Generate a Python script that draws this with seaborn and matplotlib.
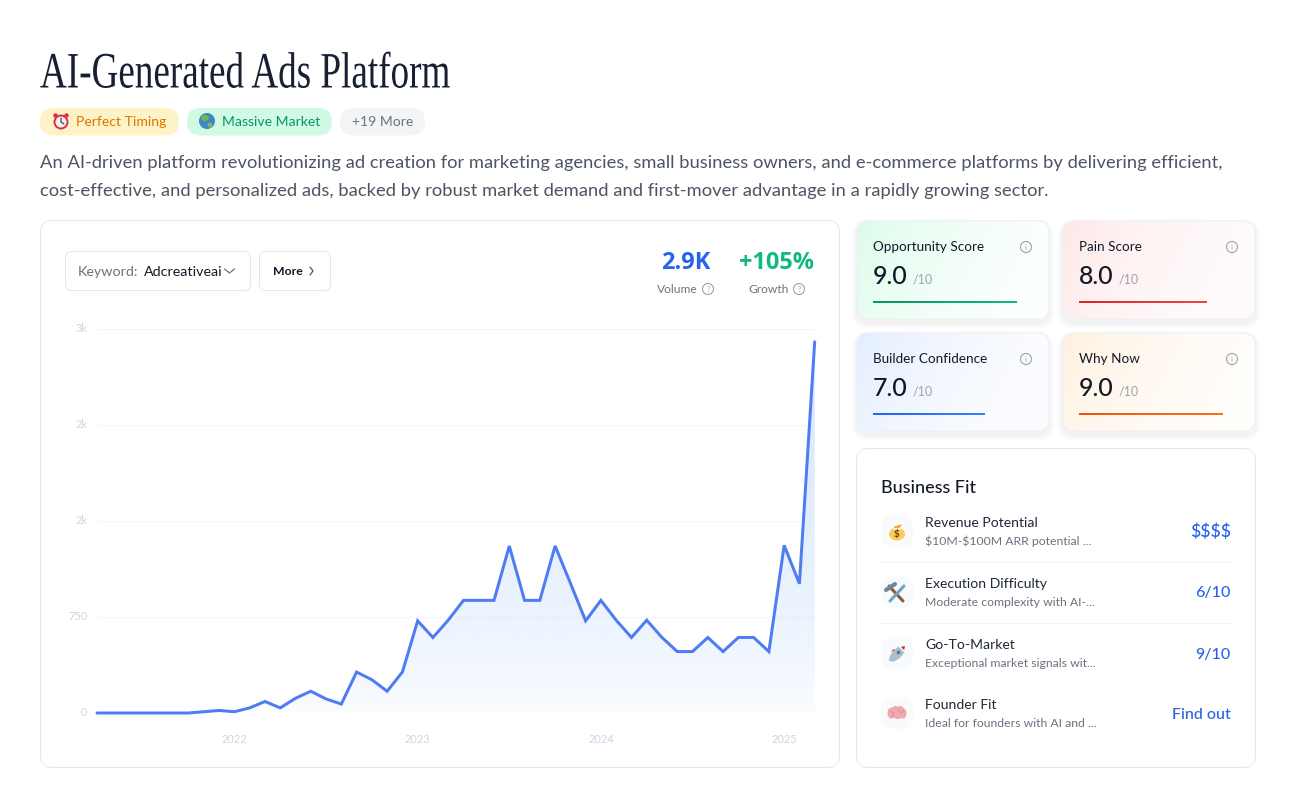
#!/usr/bin/env python3
"""Idea overview card: keyword trend chart with score cards and business fit list."""

import matplotlib

matplotlib.use("Agg")

import matplotlib.patheffects as pe
import matplotlib.pyplot as plt
import numpy as np
import seaborn as sns
from matplotlib.colors import LinearSegmentedColormap, to_rgb
from matplotlib.patches import Circle, Ellipse, FancyBboxPatch, Polygon
from matplotlib.transforms import Affine2D

W, H = 1296, 808

# --- data ---
volume = [0, 0, 0, 0, 0, 0, 0, 10, 20, 10, 40, 90, 40, 115, 170, 110, 70, 320,
          260, 170, 320, 720, 590, 725, 880, 880, 880, 1305, 880, 880, 1305, 1015,
          720, 880, 725, 590, 725, 590, 480, 480, 590, 480, 590, 590, 480, 1310,
          1010, 2900]
year_positions = [9, 21, 33, 45]
year_labels = ["2022", "2023", "2024", "2025"]
y_ticks = [0, 750, 1500, 2250, 3000]
y_tick_labels = ["0", "750", "2k", "2k", "3k"]

score_names = ["Opportunity Score", "Pain Score", "Builder Confidence", "Why Now"]
score_values = [9.0, 8.0, 7.0, 9.0]

fit_names = ["Revenue Potential", "Execution Difficulty", "Go-To-Market", "Founder Fit"]
fit_notes = ["$10M-$100M ARR potential ...", "Moderate complexity with AI-...",
             "Exceptional market signals wit...", "Ideal for founders with AI and ..."]
fit_values = ["$$$$", "6/10", "9/10", "Find out"]

description = [
    "An AI-driven platform revolutionizing ad creation for marketing agencies, small "
    "business owners, and e-commerce platforms by delivering efficient,",
    "cost-effective, and personalized ads, backed by robust market demand and "
    "first-mover advantage in a rapidly growing sector.",
]

BODY = "Lato"
HEAD = "Open Sans"
BLUE = "#2563eb"
BORDER = "#e2e8f0"
INK = "#111827"
GREY = "#6b7280"

sns.set_theme(style="white")
plt.rcParams["font.family"] = [BODY, "DejaVu Sans"]

fig = plt.figure(figsize=(W / 100, H / 100), dpi=100, facecolor="white")
ui = fig.add_axes([0, 0, 1, 1])
ui.set_xlim(0, W)
ui.set_ylim(H, 0)
ui.axis("off")


def pt(px):
    return px * 0.72


def label(x, y, s, size, color=INK, weight=400, ha="left", family=BODY, **kw):
    s = s.replace("$", r"\$")
    return ui.text(x, y, s, fontsize=pt(size), color=color, fontweight=weight, ha=ha,
                   va="baseline", family=family, **kw)


def box(x, y, w, h, r, face="white", edge=BORDER, lw=1.0, z=2, alpha=None):
    patch = FancyBboxPatch((x, y), w, h, boxstyle=f"round,pad=0,rounding_size={r}",
                           facecolor=face, edgecolor=edge, linewidth=lw * 0.72,
                           zorder=z, alpha=alpha)
    ui.add_patch(patch)
    return patch


def shadow(x, y, w, h, r):
    for grow in range(6, 0, -1):
        box(x - grow, y - grow + 4, w + 2 * grow, h + 2 * grow, r + grow,
            face="#0f172a", edge="none", z=1, alpha=0.006)


class CondenseX(pe.AbstractPathEffect):
    """Squeeze the glyphs sideways, the nearest serif is much wider than the original."""

    def __init__(self, x0, factor):
        super().__init__()
        self.x0 = x0
        self.factor = factor

    def draw_path(self, renderer, gc, tpath, affine, rgbFace=None):
        squeeze = Affine2D().translate(-self.x0, 0).scale(self.factor, 1).translate(self.x0, 0)
        renderer.draw_path(gc, tpath, affine + squeeze, rgbFace)


def info_icon(x, y, mark="i", r=5.5, color="#9ca3af"):
    ui.add_patch(Circle((x, y), r, facecolor="none", edgecolor=color, linewidth=0.8, zorder=5))
    ui.text(x, y + 0.3, mark, fontsize=pt(8), color=color, ha="center", va="center",
            family=BODY, zorder=5)


def chevron(x, y, dx, dy, color):
    ui.plot([x - dx, x, x + dx] if dy else [x, x + dx, x],
            [y, y + dy, y] if dy else [y - 4, y, y + 4],
            color=color, lw=0.9, zorder=5, solid_capstyle="round")


# --- header ---
label(40, 87.5, "AI-Generated Ads Platform", 51, color="#172033", family="Liberation Serif",
      path_effects=[CondenseX(40, 0.728)])

for x, w, face in [(40, 139, "#fef3c7"), (187, 145, "#d1fae5"), (340, 85, "#f3f4f6")]:
    box(x, 108, w, 27.5, 13.75, face=face, edge="none")
label(75.5, 126.5, "Perfect Timing", 14, color="#d97706")
label(222, 126.5, "Massive Market", 14, color="#059669")
label(352, 126.5, "+19 More", 14, color=GREY)

# small stand-ins for the emoji
ui.add_patch(Circle((61, 122), 6.5, facecolor="#f4f0ee", edgecolor="#dd2e44", linewidth=1.4, zorder=4))
ui.add_patch(Circle((55.5, 115.5), 2.2, facecolor="#dd2e44", edgecolor="none", zorder=4))
ui.add_patch(Circle((66.5, 115.5), 2.2, facecolor="#dd2e44", edgecolor="none", zorder=4))
ui.plot([61, 61, 64], [118, 122, 124], color="#31373d", lw=0.8, zorder=5)
ui.add_patch(Circle((207, 121), 8, facecolor="#3b88c3", edgecolor="none", zorder=4))
ui.add_patch(Ellipse((205, 118), 8, 6, facecolor="#77b255", edgecolor="none", zorder=5))
ui.add_patch(Ellipse((210, 125), 5, 5, facecolor="#8ab06a", edgecolor="none", zorder=5))

for line, base in zip(description, [168, 196]):
    label(40, base, line, 18.4, color="#4b5563")

# --- chart card ---
box(40.5, 220.5, 799, 547, 12)
box(65.5, 251.5, 185, 39, 6)
box(259.5, 251.5, 71, 39, 6)
label(78, 276, "Keyword:", 14.2, color=GREY)
label(143.5, 276, "Adcreativeai", 14.3, color=INK)
chevron(229.5, 269, 5, 4, "#6b7280")
label(272.5, 275, "More", 12.2, color=INK, weight=700)
chevron(310, 271, 3, 0, "#4b5563")

label(685.5, 269, "2.9K", 23.5, color=BLUE, weight=700, ha="center", family=HEAD)
label(777, 269, "+105%", 23.5, color="#10b981", weight=700, ha="center", family=HEAD)
label(657, 293, "Volume", 12, color=GREY)
label(748.5, 293, "Growth", 12, color=GREY)
info_icon(708, 289, "?")
info_icon(799, 289, "?")

x_left, x_right, y_top, y_bottom = 97, 814.7, 329, 713
chart = fig.add_axes([x_left / W, 1 - y_bottom / H, (x_right - x_left) / W, (y_bottom - y_top) / H])
chart.patch.set_alpha(0)
months = np.arange(len(volume))
chart.set_xlim(months[0], months[-1])
chart.set_ylim(0, 3000)

# area under the curve, fades out towards the axis
area = chart.fill_between(months, volume, 0, facecolor="none", edgecolor="none")
fade = np.zeros((256, 1, 4))
fade[..., :3] = to_rgb("#d6e6fd")
fade[..., 3] = 0.06 + 0.94 * np.linspace(1.0, 0.0, 256)[:, None] ** 0.65
image = chart.imshow(fade, extent=[months[0], months[-1], 0, max(volume)], aspect="auto",
                     origin="upper", zorder=1)
image.set_clip_path(area.get_paths()[0], chart.transData)

sns.lineplot(x=months, y=volume, ax=chart, color="#4d7cf3", linewidth=pt(3), zorder=3,
             solid_joinstyle="miter", clip_on=False)
chart.set_xlim(months[0], months[-1])
chart.set_ylim(0, 3000)
chart.set_yticks(y_ticks, y_tick_labels)
chart.set_xticks(year_positions, year_labels)
chart.tick_params(axis="both", length=0, labelsize=pt(11), labelcolor="#cbd5e1")
chart.tick_params(axis="y", pad=7)
chart.tick_params(axis="x", pad=15)
for tick_text in chart.get_yticklabels():
    tick_text.set_verticalalignment("center")
chart.grid(axis="y", color="#f4f5f7", linewidth=1)
chart.set_axisbelow(True)
chart.set_xlabel("")
chart.set_ylabel("")
sns.despine(ax=chart, left=True, bottom=True)

# --- score cards ---
card_x = [857, 1063, 857, 1063]
card_y = [221, 221, 333, 333]
card_tints = ["#d6fbe6", "#fee4e4", "#dfebfe", "#ffefdb"]
card_ends = ["#fbfffd", "#fffbfb", "#fbfcff", "#fffdfa"]
bar_starts = ["#059669", "#dc2626", "#2563eb", "#ea580c"]
bar_ends = ["#10b981", "#ef4444", "#3b82f6", "#f97316"]
cw, ch = 192, 98

for name, value, cx, cy, tint, end, c0, c1 in zip(score_names, score_values, card_x, card_y,
                                                  card_tints, card_ends, bar_starts, bar_ends):
    shadow(cx, cy, cw, ch, 12)
    frame = box(cx, cy, cw, ch, 12, face="white", edge="#eef1f5")
    u = np.linspace(0, 1, 192)
    v = np.linspace(0, 1, 98)[:, None]
    ramp = np.clip((u + 0.25 * v), 0, 1) ** 0.55
    cmap = LinearSegmentedColormap.from_list("card", [tint, end])
    wash = ui.imshow(ramp, cmap=cmap, vmin=0, vmax=1, extent=[cx, cx + cw, cy + ch, cy],
                     aspect="auto", zorder=2.5)
    wash.set_clip_path(frame)
    box(cx, cy, cw, ch, 12, face="none", edge="#eef1f5", z=2.6)
    label(cx + 16, cy + 30, name, 13.5, color=INK, zorder=5)
    label(cx + 16, cy + 63, f"{value:.1f}", 25, color=INK, weight=500, zorder=5)
    label(cx + 55.5, cy + 62, "/10", 12.5, color="#9ca3af", zorder=5)
    info_icon(cx + 169, cy + 26)

    track = fig.add_axes([(cx + 16) / W, 1 - (cy + 82) / H, 160 / W, 2 / H])
    track.set_xlim(0, 10)
    track.set_ylim(0, 1)
    track.axis("off")
    track.barh([0.5], [10], height=1, color="#f3f4f6")
    fill_cmap = LinearSegmentedColormap.from_list("bar", [c0, c1])
    track.imshow(np.linspace(0, 1, 64)[None, :], cmap=fill_cmap, extent=[0, value, 0, 1],
                 aspect="auto", zorder=3)
    track.set_xlim(0, 10)
    track.set_ylim(0, 1)

# --- business fit ---
box(856.5, 448.5, 399, 319, 12)
label(881, 493, "Business Fit", 18, color=INK, weight=500)
title_rows = [527, 588, 649, 709]
note_rows = [545, 606, 667, 727]
value_rows = [537, 597.5, 658.5, 719]
value_sizes = [17.5, 16, 16, 16]
icon_rows = [531, 592, 653, 713]

for name, note, value, size, ty, ny, vy, iy in zip(fit_names, fit_notes, fit_values, value_sizes,
                                                   title_rows, note_rows, value_rows, icon_rows):
    box(881, iy - 16, 32, 32, 12, face="#f8fafc", edge="none")
    label(925, ty, name, 14, color="#1f2937")
    label(925, ny, note, 12.3, color=GREY)
    label(1231, vy, value, size, color=BLUE, weight=500, ha="right")
for y in [561.5, 622.5]:
    ui.plot([881, 1231], [y, y], color="#f1f3f6", lw=0.8, zorder=3)

# money bag
ui.add_patch(Ellipse((897, 534), 16, 13, facecolor="#fdcb58", edgecolor="none", zorder=4))
ui.add_patch(Polygon([[894, 529], [900, 529], [904, 523], [893, 526]], facecolor="#f4a93a", zorder=4))
ui.text(897, 534, r"\$", fontsize=pt(10), color="#67400f", ha="center", va="center", zorder=5, fontweight=700)
# hammer and wrench
ui.plot([889, 903], [586, 601], color="#8a5a3c", lw=2.2, zorder=4)
ui.plot([904, 890], [586, 601], color="#6ea4c4", lw=2.2, zorder=4)
ui.plot([886, 895], [590, 584], color="#6e8899", lw=3, zorder=5)
# rocket
ui.add_patch(Polygon([[888, 653], [894, 648], [897, 651]], facecolor="#c8332b", zorder=4))
ui.add_patch(Polygon([[897, 662], [902, 656], [899, 653]], facecolor="#c8332b", zorder=4))
ui.add_patch(Polygon([[888, 658], [893, 657], [892, 661], [888, 662]], facecolor="#fdcb58", zorder=4))
ui.add_patch(Ellipse((897.5, 653.5), 21, 9.5, angle=-45, facecolor="#a9c0d0", edgecolor="none", zorder=5))
ui.add_patch(Polygon([[906, 645], [899.5, 646.5], [904.5, 651.5]], facecolor="#c8332b", zorder=6))
ui.add_patch(Circle((898.5, 652.5), 1.8, facecolor="#55788f", edgecolor="none", zorder=6))
# brain
for dx, dy, rx, ry in [(-5.5, 0, 8, 11), (-1.5, -1, 9, 12), (3, -1, 10, 12), (6, 0.5, 7, 10), (1, 3, 9, 6)]:
    ui.add_patch(Ellipse((897 + dx, 713 + dy), rx, ry, facecolor="#f2a6ae", edgecolor="none", zorder=4))
ui.plot([890, 894, 892], [711, 713, 717], color="#e58a94", lw=0.6, zorder=5)
ui.plot([898, 901, 904], [709, 713, 711], color="#e58a94", lw=0.6, zorder=5)

fig.savefig("out.png", dpi=100, facecolor="white")
